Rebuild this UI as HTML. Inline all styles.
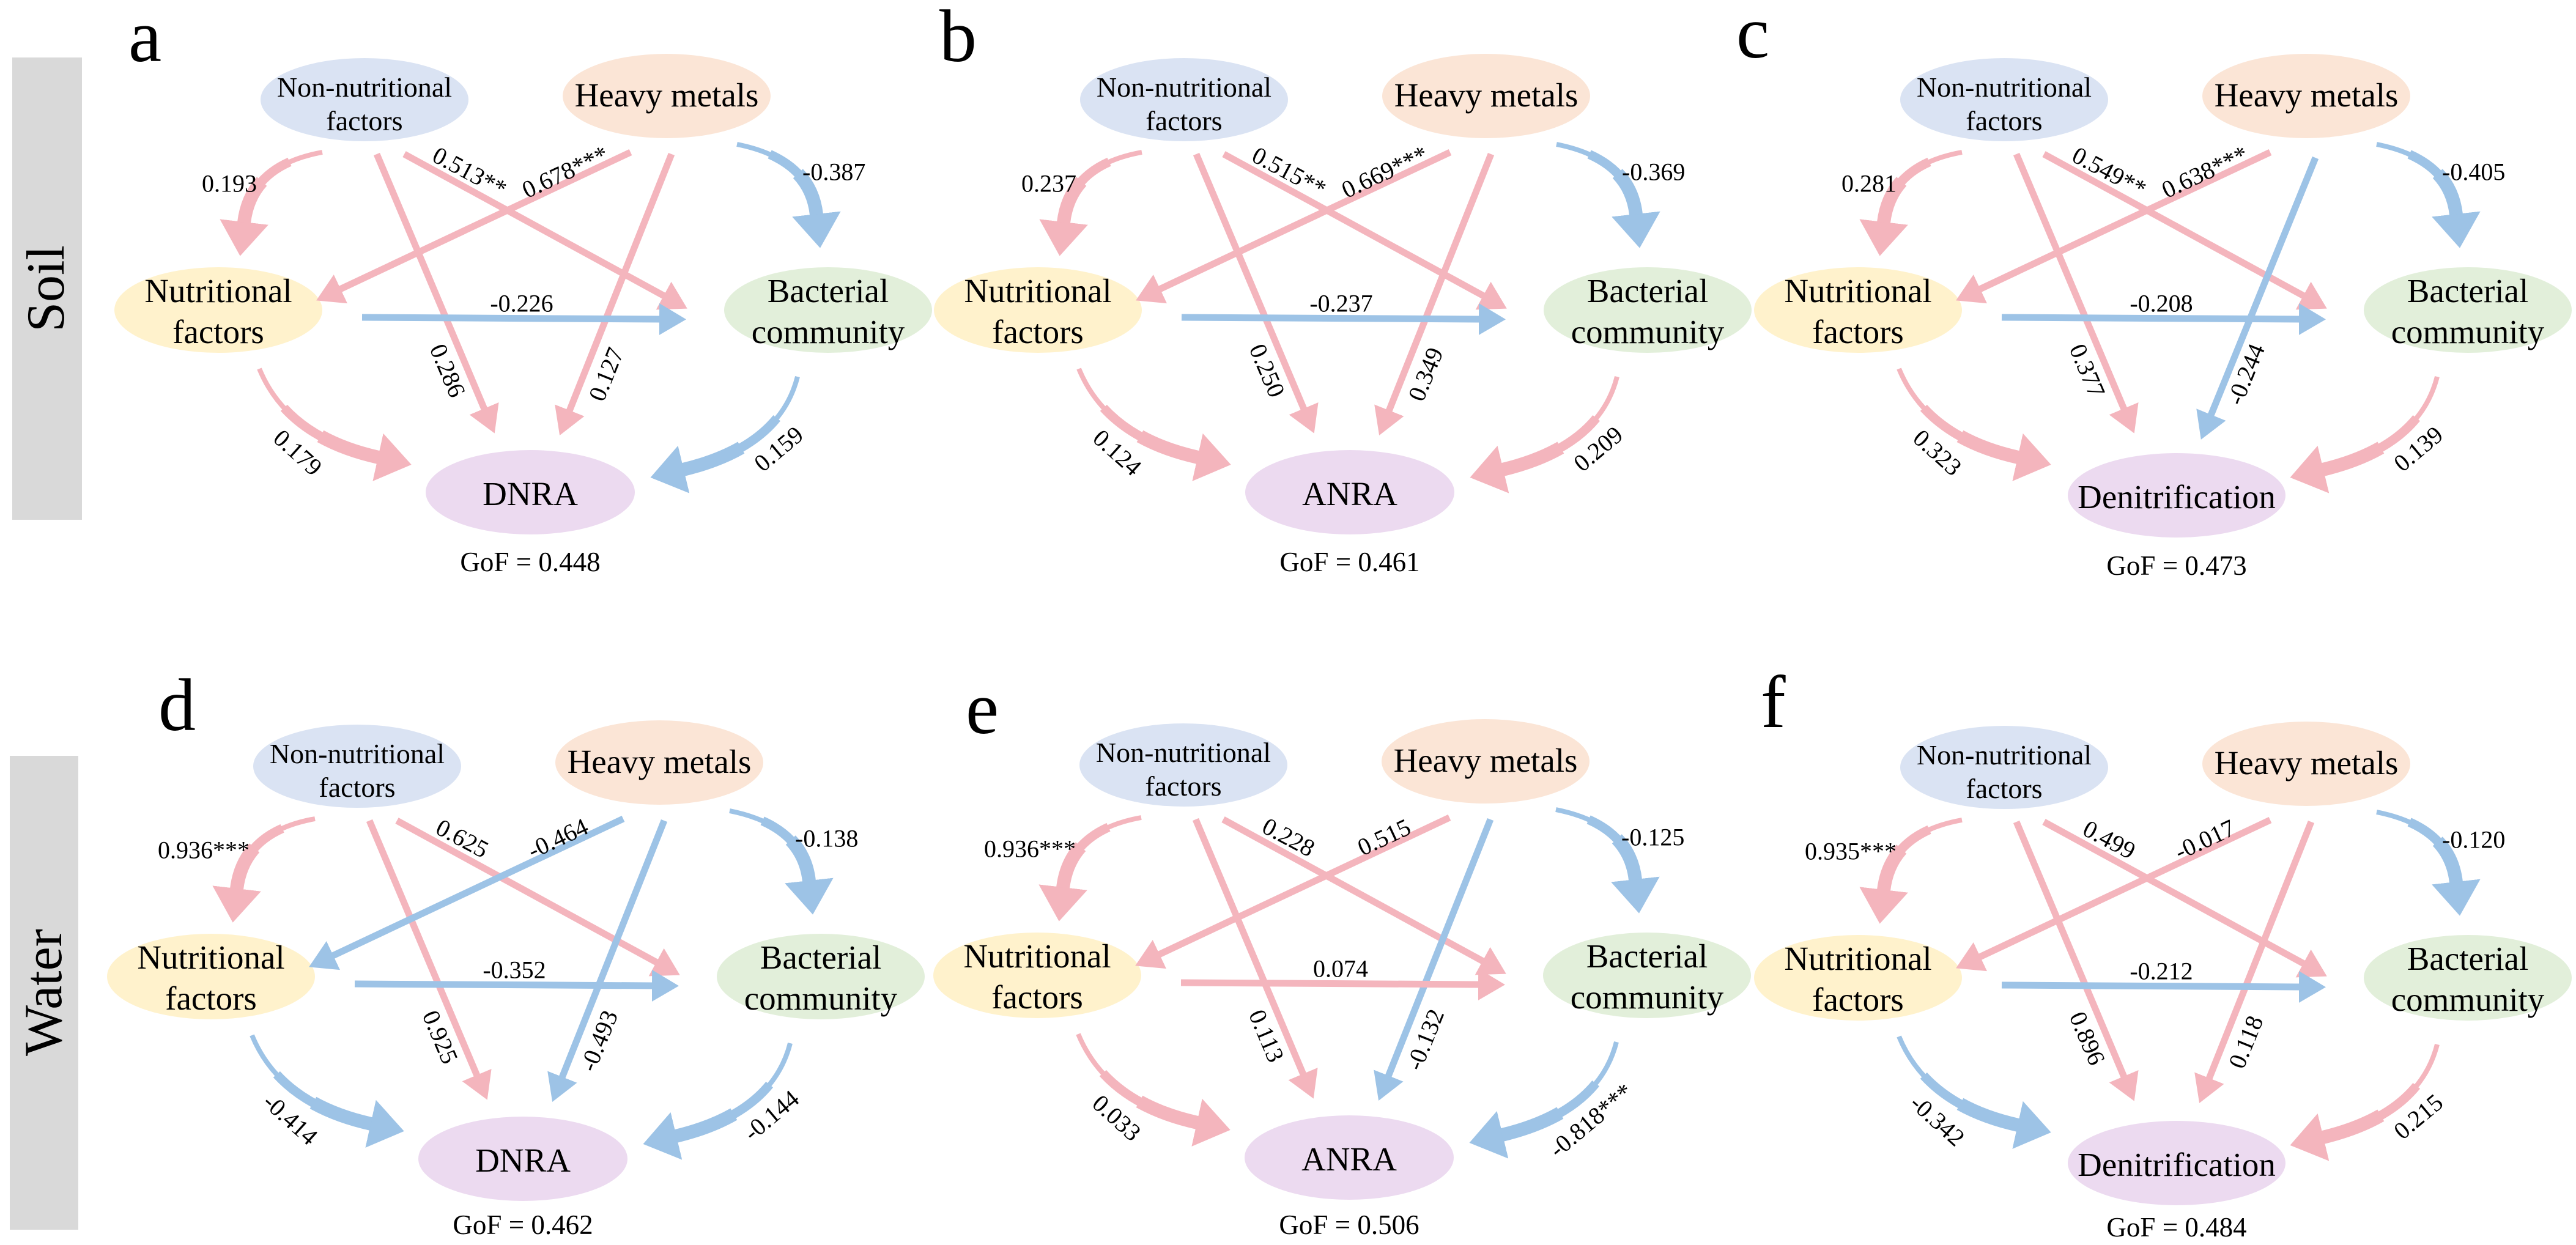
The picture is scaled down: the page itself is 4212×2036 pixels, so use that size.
<!DOCTYPE html>
<html><head><meta charset="utf-8"><style>
html,body{margin:0;padding:0;background:#fff;}
svg{display:block;}
text{font-family:"Liberation Serif","Times New Roman",serif;fill:#000;}
.nn{font-size:46px;text-anchor:middle;}
.nd{font-size:55px;text-anchor:middle;}
.lb{font-size:40px;text-anchor:middle;dominant-baseline:central;}
.gof{font-size:45px;text-anchor:middle;}
.let{font-size:122px;}
.sp{stroke:#f4b5bd;fill:none;}
.sb{stroke:#9dc3e6;fill:none;}
.st{stroke-width:11;}
.cv{stroke-width:8;}
.c2{stroke-width:15;stroke-dasharray:0 30 70 0;}
.c3{stroke-width:22;stroke-dasharray:0 60 40 0;}
</style></head><body>
<svg width="4212" height="2036" viewBox="0 0 4212 2036" xmlns="http://www.w3.org/2000/svg" font-family="Liberation Serif, Times New Roman, serif">
<defs>
<marker id="sP" markerUnits="userSpaceOnUse" markerWidth="50" markerHeight="60" refX="1" refY="30" orient="auto"><path d="M0,4 L44,30 L0,56 z" fill="#f4b5bd"/></marker>
<marker id="sB" markerUnits="userSpaceOnUse" markerWidth="50" markerHeight="60" refX="1" refY="30" orient="auto"><path d="M0,4 L44,30 L0,56 z" fill="#9dc3e6"/></marker>
<marker id="lP" markerUnits="userSpaceOnUse" markerWidth="60" markerHeight="84" refX="1" refY="42" orient="auto"><path d="M0,2 L56,42 L0,82 z" fill="#f4b5bd"/></marker>
<marker id="lB" markerUnits="userSpaceOnUse" markerWidth="60" markerHeight="84" refX="1" refY="42" orient="auto"><path d="M0,2 L56,42 L0,82 z" fill="#9dc3e6"/></marker>
<g id="cA"><path pathLength="100" d="M527,249 Q410,270 399,364"/></g>
</defs>

<rect x="20" y="94" width="114" height="756" fill="#d9d9d9"/>
<text transform="translate(104,472) rotate(-90)" style="font-size:88px;text-anchor:middle;">Soil</text>
<rect x="16" y="1236" width="112" height="775" fill="#d9d9d9"/>
<text transform="translate(100,1623) rotate(-90)" style="font-size:88px;text-anchor:middle;">Water</text>

<text class="let" x="210" y="100">a</text>
<text class="let" x="1536" y="100">b</text>
<text class="let" x="2839" y="94">c</text>
<text class="let" x="259" y="1194">d</text>
<text class="let" x="1579" y="1199">e</text>
<text class="let" x="2879" y="1189">f</text>

<!-- Panel a -->
<g transform="translate(0,0)">
<ellipse cx="596" cy="163" rx="170" ry="68" fill="#dae3f3"/>
<ellipse cx="1090" cy="157" rx="170" ry="69" fill="#fbe5d6"/>
<ellipse cx="357" cy="507" rx="170" ry="70" fill="#fff2cc"/>
<ellipse cx="1354" cy="507" rx="170" ry="70" fill="#e2efda"/>
<ellipse cx="867" cy="805" rx="171" ry="69" fill="#ecdaf0"/>
<text class="nn" x="596" y="158">Non-nutritional</text><text class="nn" x="596" y="213">factors</text>
<text class="nd" x="1090" y="174">Heavy metals</text>
<text class="nd" x="357" y="494">Nutritional</text><text class="nd" x="357" y="561">factors</text>
<text class="nd" x="1354" y="494">Bacterial</text><text class="nd" x="1354" y="561">community</text>
<text class="nd" x="867" y="826">DNRA</text>
<text class="gof" x="867" y="934">GoF = 0.448</text>
<path class="sp cv" d="M527,249 Q410,270 399,364" marker-end="url(#lP)"/><path class="sp c2" pathLength="100" d="M527,249 Q410,270 399,364"/><path class="sp c3" pathLength="100" d="M527,249 Q410,270 399,364"/>
<path class="sp st" d="M616,252 L792,669" marker-end="url(#sP)"/>
<path class="sp st" d="M661,252 L1086,484" marker-end="url(#sP)"/>
<path class="sp st" d="M1031,249 L556,473" marker-end="url(#sP)"/>
<path class="sp st" d="M1098,252 L931,672" marker-end="url(#sP)"/>
<path class="sb cv" d="M1205,236 Q1325,260 1335,351" marker-end="url(#lB)"/><path class="sb c2" pathLength="100" d="M1205,236 Q1325,260 1335,351"/><path class="sb c3" pathLength="100" d="M1205,236 Q1325,260 1335,351"/>
<path class="sb st" d="M592,519 L1079,522" marker-end="url(#sB)"/>
<path class="sp cv" d="M424,603 Q470,715 619,748" marker-end="url(#lP)"/><path class="sp c2" pathLength="100" d="M424,603 Q470,715 619,748"/><path class="sp c3" pathLength="100" d="M424,603 Q470,715 619,748"/>
<path class="sb cv" d="M1304,616 Q1275,730 1117,768" marker-end="url(#lB)"/><path class="sb c2" pathLength="100" d="M1304,616 Q1275,730 1117,768"/><path class="sb c3" pathLength="100" d="M1304,616 Q1275,730 1117,768"/>
<text class="lb" x="420" y="300" style="text-anchor:end">0.193</text>
<text class="lb" transform="translate(732,606) rotate(67)">0.286</text>
<text class="lb" transform="translate(768,281) rotate(28)">0.513**</text>
<text class="lb" transform="translate(924,281) rotate(-25)">0.678***</text>
<text class="lb" transform="translate(991,612) rotate(-68)">0.127</text>
<text class="lb" x="1312" y="281" style="text-anchor:start">-0.387</text>
<text class="lb" x="853" y="496">-0.226</text>
<text class="lb" transform="translate(487,740) rotate(42)">0.179</text>
<text class="lb" transform="translate(1273,734) rotate(-40)">0.159</text>
</g>

<!-- Panel b -->
<g transform="translate(1340,0)">
<ellipse cx="596" cy="163" rx="170" ry="68" fill="#dae3f3"/>
<ellipse cx="1090" cy="157" rx="170" ry="69" fill="#fbe5d6"/>
<ellipse cx="357" cy="507" rx="170" ry="70" fill="#fff2cc"/>
<ellipse cx="1354" cy="507" rx="170" ry="70" fill="#e2efda"/>
<ellipse cx="867" cy="805" rx="171" ry="69" fill="#ecdaf0"/>
<text class="nn" x="596" y="158">Non-nutritional</text><text class="nn" x="596" y="213">factors</text>
<text class="nd" x="1090" y="174">Heavy metals</text>
<text class="nd" x="357" y="494">Nutritional</text><text class="nd" x="357" y="561">factors</text>
<text class="nd" x="1354" y="494">Bacterial</text><text class="nd" x="1354" y="561">community</text>
<text class="nd" x="867" y="826">ANRA</text>
<text class="gof" x="867" y="934">GoF = 0.461</text>
<path class="sp cv" d="M527,249 Q410,270 399,364" marker-end="url(#lP)"/><path class="sp c2" pathLength="100" d="M527,249 Q410,270 399,364"/><path class="sp c3" pathLength="100" d="M527,249 Q410,270 399,364"/>
<path class="sp st" d="M616,252 L792,669" marker-end="url(#sP)"/>
<path class="sp st" d="M661,252 L1086,484" marker-end="url(#sP)"/>
<path class="sp st" d="M1031,249 L556,473" marker-end="url(#sP)"/>
<path class="sp st" d="M1098,252 L931,672" marker-end="url(#sP)"/>
<path class="sb cv" d="M1205,236 Q1325,260 1335,351" marker-end="url(#lB)"/><path class="sb c2" pathLength="100" d="M1205,236 Q1325,260 1335,351"/><path class="sb c3" pathLength="100" d="M1205,236 Q1325,260 1335,351"/>
<path class="sb st" d="M592,519 L1079,522" marker-end="url(#sB)"/>
<path class="sp cv" d="M424,603 Q470,715 619,748" marker-end="url(#lP)"/><path class="sp c2" pathLength="100" d="M424,603 Q470,715 619,748"/><path class="sp c3" pathLength="100" d="M424,603 Q470,715 619,748"/>
<path class="sp cv" d="M1304,616 Q1275,730 1117,768" marker-end="url(#lP)"/><path class="sp c2" pathLength="100" d="M1304,616 Q1275,730 1117,768"/><path class="sp c3" pathLength="100" d="M1304,616 Q1275,730 1117,768"/>
<text class="lb" x="420" y="300" style="text-anchor:end">0.237</text>
<text class="lb" transform="translate(732,606) rotate(67)">0.250</text>
<text class="lb" transform="translate(768,281) rotate(28)">0.515**</text>
<text class="lb" transform="translate(924,281) rotate(-25)">0.669***</text>
<text class="lb" transform="translate(991,612) rotate(-68)">0.349</text>
<text class="lb" x="1312" y="281" style="text-anchor:start">-0.369</text>
<text class="lb" x="853" y="496">-0.237</text>
<text class="lb" transform="translate(487,740) rotate(42)">0.124</text>
<text class="lb" transform="translate(1273,734) rotate(-40)">0.209</text>
</g>

<!-- Panel c -->
<g transform="translate(2681,0)">
<ellipse cx="596" cy="163" rx="170" ry="68" fill="#dae3f3"/>
<ellipse cx="1090" cy="157" rx="170" ry="69" fill="#fbe5d6"/>
<ellipse cx="357" cy="507" rx="170" ry="70" fill="#fff2cc"/>
<ellipse cx="1354" cy="507" rx="170" ry="70" fill="#e2efda"/>
<ellipse cx="878" cy="810" rx="178" ry="69" fill="#ecdaf0"/>
<text class="nn" x="596" y="158">Non-nutritional</text><text class="nn" x="596" y="213">factors</text>
<text class="nd" x="1090" y="174">Heavy metals</text>
<text class="nd" x="357" y="494">Nutritional</text><text class="nd" x="357" y="561">factors</text>
<text class="nd" x="1354" y="494">Bacterial</text><text class="nd" x="1354" y="561">community</text>
<text class="nd" x="878" y="831">Denitrification</text>
<text class="gof" x="878" y="940">GoF = 0.473</text>
<path class="sp cv" d="M527,249 Q410,270 399,364" marker-end="url(#lP)"/><path class="sp c2" pathLength="100" d="M527,249 Q410,270 399,364"/><path class="sp c3" pathLength="100" d="M527,249 Q410,270 399,364"/>
<path class="sp st" d="M616,252 L792,669" marker-end="url(#sP)"/>
<path class="sp st" d="M661,252 L1086,484" marker-end="url(#sP)"/>
<path class="sp st" d="M1031,249 L556,473" marker-end="url(#sP)"/>
<path class="sb st" d="M1105,258 L934,679" marker-end="url(#sB)"/>
<path class="sb cv" d="M1205,236 Q1325,260 1335,351" marker-end="url(#lB)"/><path class="sb c2" pathLength="100" d="M1205,236 Q1325,260 1335,351"/><path class="sb c3" pathLength="100" d="M1205,236 Q1325,260 1335,351"/>
<path class="sb st" d="M592,519 L1079,522" marker-end="url(#sB)"/>
<path class="sp cv" d="M424,603 Q470,715 619,748" marker-end="url(#lP)"/><path class="sp c2" pathLength="100" d="M424,603 Q470,715 619,748"/><path class="sp c3" pathLength="100" d="M424,603 Q470,715 619,748"/>
<path class="sp cv" d="M1304,616 Q1275,730 1117,768" marker-end="url(#lP)"/><path class="sp c2" pathLength="100" d="M1304,616 Q1275,730 1117,768"/><path class="sp c3" pathLength="100" d="M1304,616 Q1275,730 1117,768"/>
<text class="lb" x="420" y="300" style="text-anchor:end">0.281</text>
<text class="lb" transform="translate(732,606) rotate(67)">0.377</text>
<text class="lb" transform="translate(768,281) rotate(28)">0.549**</text>
<text class="lb" transform="translate(924,281) rotate(-25)">0.638***</text>
<text class="lb" transform="translate(991,612) rotate(-68)">-0.244</text>
<text class="lb" x="1312" y="281" style="text-anchor:start">-0.405</text>
<text class="lb" x="853" y="496">-0.208</text>
<text class="lb" transform="translate(487,740) rotate(42)">0.323</text>
<text class="lb" transform="translate(1273,734) rotate(-40)">0.139</text>
</g>

<!-- Panel d -->
<g transform="translate(-12,1090)">
<ellipse cx="596" cy="163" rx="170" ry="68" fill="#dae3f3"/>
<ellipse cx="1090" cy="157" rx="170" ry="69" fill="#fbe5d6"/>
<ellipse cx="357" cy="507" rx="170" ry="70" fill="#fff2cc"/>
<ellipse cx="1354" cy="507" rx="170" ry="70" fill="#e2efda"/>
<ellipse cx="867" cy="805" rx="171" ry="69" fill="#ecdaf0"/>
<text class="nn" x="596" y="158">Non-nutritional</text><text class="nn" x="596" y="213">factors</text>
<text class="nd" x="1090" y="174">Heavy metals</text>
<text class="nd" x="357" y="494">Nutritional</text><text class="nd" x="357" y="561">factors</text>
<text class="nd" x="1354" y="494">Bacterial</text><text class="nd" x="1354" y="561">community</text>
<text class="nd" x="867" y="826">DNRA</text>
<text class="gof" x="867" y="928">GoF = 0.462</text>
<path class="sp cv" d="M527,249 Q410,270 399,364" marker-end="url(#lP)"/><path class="sp c2" pathLength="100" d="M527,249 Q410,270 399,364"/><path class="sp c3" pathLength="100" d="M527,249 Q410,270 399,364"/>
<path class="sp st" d="M616,252 L792,669" marker-end="url(#sP)"/>
<path class="sp st" d="M661,252 L1086,484" marker-end="url(#sP)"/>
<path class="sb st" d="M1031,249 L556,473" marker-end="url(#sB)"/>
<path class="sb st" d="M1098,252 L931,672" marker-end="url(#sB)"/>
<path class="sb cv" d="M1205,236 Q1325,260 1335,351" marker-end="url(#lB)"/><path class="sb c2" pathLength="100" d="M1205,236 Q1325,260 1335,351"/><path class="sb c3" pathLength="100" d="M1205,236 Q1325,260 1335,351"/>
<path class="sb st" d="M592,519 L1079,522" marker-end="url(#sB)"/>
<path class="sb cv" d="M424,603 Q470,715 619,748" marker-end="url(#lB)"/><path class="sb c2" pathLength="100" d="M424,603 Q470,715 619,748"/><path class="sb c3" pathLength="100" d="M424,603 Q470,715 619,748"/>
<path class="sb cv" d="M1304,616 Q1275,730 1117,768" marker-end="url(#lB)"/><path class="sb c2" pathLength="100" d="M1304,616 Q1275,730 1117,768"/><path class="sb c3" pathLength="100" d="M1304,616 Q1275,730 1117,768"/>
<text class="lb" x="420" y="300" style="text-anchor:end">0.936***</text>
<text class="lb" transform="translate(732,606) rotate(67)">0.925</text>
<text class="lb" transform="translate(768,281) rotate(28)">0.625</text>
<text class="lb" transform="translate(924,281) rotate(-25)">-0.464</text>
<text class="lb" transform="translate(991,612) rotate(-68)">-0.493</text>
<text class="lb" x="1312" y="281" style="text-anchor:start">-0.138</text>
<text class="lb" x="853" y="496">-0.352</text>
<text class="lb" transform="translate(487,740) rotate(42)">-0.414</text>
<text class="lb" transform="translate(1273,734) rotate(-40)">-0.144</text>
</g>

<!-- Panel e -->
<g transform="translate(1339,1088)">
<ellipse cx="596" cy="163" rx="170" ry="68" fill="#dae3f3"/>
<ellipse cx="1090" cy="157" rx="170" ry="69" fill="#fbe5d6"/>
<ellipse cx="357" cy="507" rx="170" ry="70" fill="#fff2cc"/>
<ellipse cx="1354" cy="507" rx="170" ry="70" fill="#e2efda"/>
<ellipse cx="867" cy="805" rx="171" ry="69" fill="#ecdaf0"/>
<text class="nn" x="596" y="158">Non-nutritional</text><text class="nn" x="596" y="213">factors</text>
<text class="nd" x="1090" y="174">Heavy metals</text>
<text class="nd" x="357" y="494">Nutritional</text><text class="nd" x="357" y="561">factors</text>
<text class="nd" x="1354" y="494">Bacterial</text><text class="nd" x="1354" y="561">community</text>
<text class="nd" x="867" y="826">ANRA</text>
<text class="gof" x="867" y="930">GoF = 0.506</text>
<path class="sp cv" d="M527,249 Q410,270 399,364" marker-end="url(#lP)"/><path class="sp c2" pathLength="100" d="M527,249 Q410,270 399,364"/><path class="sp c3" pathLength="100" d="M527,249 Q410,270 399,364"/>
<path class="sp st" d="M616,252 L792,669" marker-end="url(#sP)"/>
<path class="sp st" d="M661,252 L1086,484" marker-end="url(#sP)"/>
<path class="sp st" d="M1031,249 L556,473" marker-end="url(#sP)"/>
<path class="sb st" d="M1098,252 L931,672" marker-end="url(#sB)"/>
<path class="sb cv" d="M1205,236 Q1325,260 1335,351" marker-end="url(#lB)"/><path class="sb c2" pathLength="100" d="M1205,236 Q1325,260 1335,351"/><path class="sb c3" pathLength="100" d="M1205,236 Q1325,260 1335,351"/>
<path class="sp st" d="M592,519 L1079,522" marker-end="url(#sP)"/>
<path class="sp cv" d="M424,603 Q470,715 619,748" marker-end="url(#lP)"/><path class="sp c2" pathLength="100" d="M424,603 Q470,715 619,748"/><path class="sp c3" pathLength="100" d="M424,603 Q470,715 619,748"/>
<path class="sb cv" d="M1304,616 Q1275,730 1117,768" marker-end="url(#lB)"/><path class="sb c2" pathLength="100" d="M1304,616 Q1275,730 1117,768"/><path class="sb c3" pathLength="100" d="M1304,616 Q1275,730 1117,768"/>
<text class="lb" x="420" y="300" style="text-anchor:end">0.936***</text>
<text class="lb" transform="translate(732,606) rotate(67)">0.113</text>
<text class="lb" transform="translate(768,281) rotate(28)">0.228</text>
<text class="lb" transform="translate(924,281) rotate(-25)">0.515</text>
<text class="lb" transform="translate(991,612) rotate(-68)">-0.132</text>
<text class="lb" x="1312" y="281" style="text-anchor:start">-0.125</text>
<text class="lb" x="853" y="496">0.074</text>
<text class="lb" transform="translate(487,740) rotate(42)">0.033</text>
<text class="lb" transform="translate(1262,744) rotate(-40)">-0.818***</text>
</g>

<!-- Panel f -->
<g transform="translate(2681,1092)">
<ellipse cx="596" cy="163" rx="170" ry="68" fill="#dae3f3"/>
<ellipse cx="1090" cy="157" rx="170" ry="69" fill="#fbe5d6"/>
<ellipse cx="357" cy="507" rx="170" ry="70" fill="#fff2cc"/>
<ellipse cx="1354" cy="507" rx="170" ry="70" fill="#e2efda"/>
<ellipse cx="878" cy="810" rx="178" ry="69" fill="#ecdaf0"/>
<text class="nn" x="596" y="158">Non-nutritional</text><text class="nn" x="596" y="213">factors</text>
<text class="nd" x="1090" y="174">Heavy metals</text>
<text class="nd" x="357" y="494">Nutritional</text><text class="nd" x="357" y="561">factors</text>
<text class="nd" x="1354" y="494">Bacterial</text><text class="nd" x="1354" y="561">community</text>
<text class="nd" x="878" y="831">Denitrification</text>
<text class="gof" x="878" y="930">GoF = 0.484</text>
<path class="sp cv" d="M527,249 Q410,270 399,364" marker-end="url(#lP)"/><path class="sp c2" pathLength="100" d="M527,249 Q410,270 399,364"/><path class="sp c3" pathLength="100" d="M527,249 Q410,270 399,364"/>
<path class="sp st" d="M616,252 L792,669" marker-end="url(#sP)"/>
<path class="sp st" d="M661,252 L1086,484" marker-end="url(#sP)"/>
<path class="sp st" d="M1031,249 L556,473" marker-end="url(#sP)"/>
<path class="sp st" d="M1098,252 L931,672" marker-end="url(#sP)"/>
<path class="sb cv" d="M1205,236 Q1325,260 1335,351" marker-end="url(#lB)"/><path class="sb c2" pathLength="100" d="M1205,236 Q1325,260 1335,351"/><path class="sb c3" pathLength="100" d="M1205,236 Q1325,260 1335,351"/>
<path class="sb st" d="M592,519 L1079,522" marker-end="url(#sB)"/>
<path class="sb cv" d="M424,603 Q470,715 619,748" marker-end="url(#lB)"/><path class="sb c2" pathLength="100" d="M424,603 Q470,715 619,748"/><path class="sb c3" pathLength="100" d="M424,603 Q470,715 619,748"/>
<path class="sp cv" d="M1304,616 Q1275,730 1117,768" marker-end="url(#lP)"/><path class="sp c2" pathLength="100" d="M1304,616 Q1275,730 1117,768"/><path class="sp c3" pathLength="100" d="M1304,616 Q1275,730 1117,768"/>
<text class="lb" x="420" y="300" style="text-anchor:end">0.935***</text>
<text class="lb" transform="translate(732,606) rotate(67)">0.896</text>
<text class="lb" transform="translate(768,281) rotate(28)">0.499</text>
<text class="lb" transform="translate(924,281) rotate(-25)">-0.017</text>
<text class="lb" transform="translate(991,612) rotate(-68)">0.118</text>
<text class="lb" x="1312" y="281" style="text-anchor:start">-0.120</text>
<text class="lb" x="853" y="496">-0.212</text>
<text class="lb" transform="translate(487,740) rotate(42)">-0.342</text>
<text class="lb" transform="translate(1273,734) rotate(-40)">0.215</text>
</g>
</svg>
</body></html>
